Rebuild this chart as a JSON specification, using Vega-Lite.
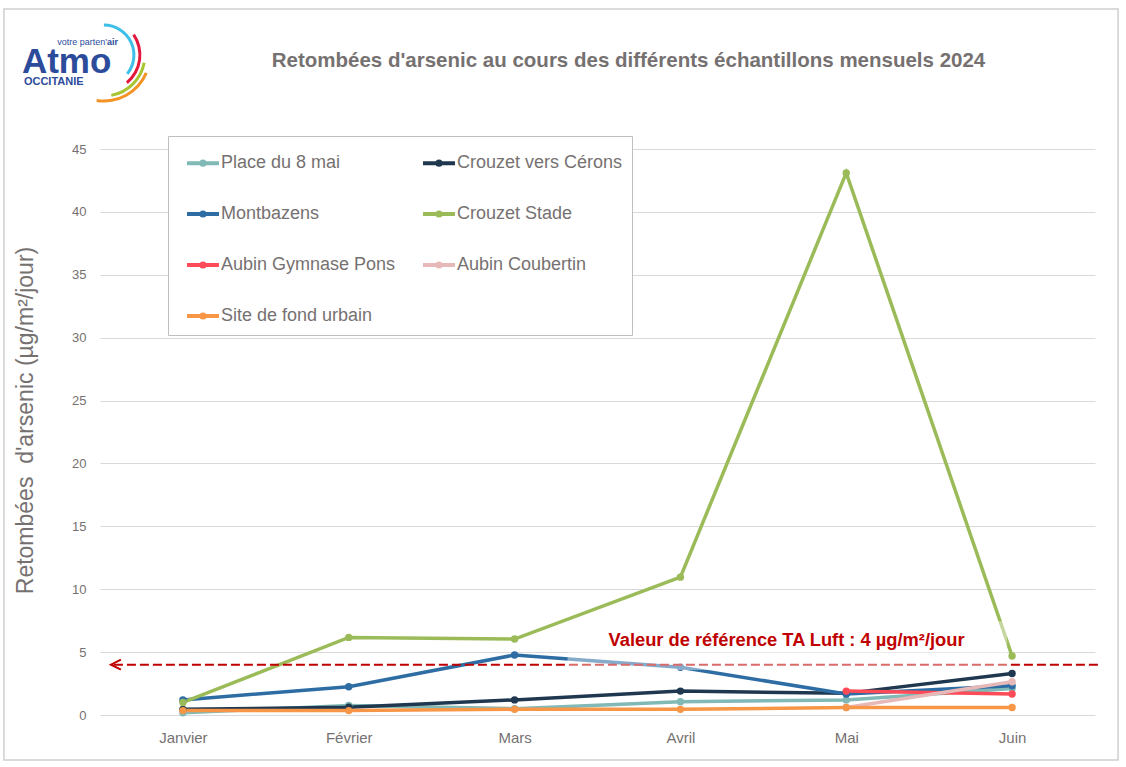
{
  "$schema": "https://vega.github.io/schema/vega-lite/v6.json",
  "autosize": {"type": "none"},
  "width": 995,
  "height": 566,
  "padding": {"left": 100, "top": 149, "right": 31, "bottom": 52},
  "background": "white",
  "title": {
    "text": "Retombées d'arsenic au cours des différents échantillons mensuels 2024",
    "font": "Liberation Sans",
    "fontSize": 20.5,
    "fontWeight": "bold",
    "color": "#767171",
    "anchor": "middle",
    "baseline": "alphabetic",
    "dx": 31,
    "offset": -79.5
  },
  "config": {
    "view": {"stroke": null},
    "font": "Liberation Sans"
  },
  "datasets": {
    "mesures": [
      {"mois": "Janvier", "site": "Place du 8 mai", "v": 0.18},
      {"mois": "Février", "site": "Place du 8 mai", "v": 0.75},
      {"mois": "Mars", "site": "Place du 8 mai", "v": 0.5},
      {"mois": "Avril", "site": "Place du 8 mai", "v": 1.05},
      {"mois": "Mai", "site": "Place du 8 mai", "v": 1.2},
      {"mois": "Juin", "site": "Place du 8 mai", "v": 2.1},
      {"mois": "Janvier", "site": "Crouzet vers Cérons", "v": 0.45},
      {"mois": "Février", "site": "Crouzet vers Cérons", "v": 0.62},
      {"mois": "Mars", "site": "Crouzet vers Cérons", "v": 1.2},
      {"mois": "Avril", "site": "Crouzet vers Cérons", "v": 1.9},
      {"mois": "Mai", "site": "Crouzet vers Cérons", "v": 1.72},
      {"mois": "Juin", "site": "Crouzet vers Cérons", "v": 3.3},
      {"mois": "Janvier", "site": "Montbazens", "v": 1.2},
      {"mois": "Février", "site": "Montbazens", "v": 2.25},
      {"mois": "Mars", "site": "Montbazens", "v": 4.77},
      {"mois": "Avril", "site": "Montbazens", "v": 3.8},
      {"mois": "Mai", "site": "Montbazens", "v": 1.67},
      {"mois": "Juin", "site": "Montbazens", "v": 2.33},
      {"mois": "Janvier", "site": "Crouzet Stade", "v": 1.0},
      {"mois": "Février", "site": "Crouzet Stade", "v": 6.17},
      {"mois": "Mars", "site": "Crouzet Stade", "v": 6.04},
      {"mois": "Avril", "site": "Crouzet Stade", "v": 10.96},
      {"mois": "Mai", "site": "Crouzet Stade", "v": 43.1},
      {"mois": "Juin", "site": "Crouzet Stade", "v": 4.69},
      {"mois": "Mai", "site": "Aubin Gymnase Pons", "v": 1.9},
      {"mois": "Juin", "site": "Aubin Gymnase Pons", "v": 1.67},
      {"mois": "Mai", "site": "Aubin Coubertin", "v": 0.6},
      {"mois": "Juin", "site": "Aubin Coubertin", "v": 2.65},
      {"mois": "Janvier", "site": "Site de fond urbain", "v": 0.35},
      {"mois": "Février", "site": "Site de fond urbain", "v": 0.35},
      {"mois": "Mars", "site": "Site de fond urbain", "v": 0.45},
      {"mois": "Avril", "site": "Site de fond urbain", "v": 0.45},
      {"mois": "Mai", "site": "Site de fond urbain", "v": 0.6},
      {"mois": "Juin", "site": "Site de fond urbain", "v": 0.6}
    ],
    "annotation": [{"label": "Valeur de référence TA Luft : 4 µg/m²/jour"}],
    "logo": [{"atmo": "Atmo", "occ": "OCCITANIE", "votre": "votre parten'", "air": "air"}]
  },
  "layer": [
    {
      "data": {"name": "mesures"},
      "mark": {"type": "line", "strokeWidth": 3.5, "point": {"filled": true, "size": 55, "opacity": 1}},
      "encoding": {
        "x": {
          "field": "mois",
          "type": "nominal",
          "scale": {"type": "point", "padding": 0.5, "domain": ["Janvier", "Février", "Mars", "Avril", "Mai", "Juin"]},
          "axis": {
            "title": null,
            "grid": false,
            "domain": false,
            "ticks": false,
            "tickSize": 0,
            "labelAngle": 0,
            "labelPadding": 15,
            "labelFont": "Liberation Sans",
            "labelFontSize": 15,
            "labelColor": "#767171"
          }
        },
        "y": {
          "field": "v",
          "type": "quantitative",
          "scale": {"domain": [0, 45], "nice": false, "zero": true},
          "axis": {
            "title": "Retombées\u00a0 d'arsenic (µg/m²/jour)",
            "titleFont": "Liberation Sans",
            "titleFontSize": 23,
            "titleFontWeight": "normal",
            "titleColor": "#767171",
            "titleAngle": -90,
            "titleAlign": "center",
            "titleBaseline": "alphabetic",
            "titleX": -68,
            "titleY": 271,
            "values": [0, 5, 10, 15, 20, 25, 30, 35, 40, 45],
            "grid": true,
            "gridColor": "#d9d9d9",
            "gridWidth": 1,
            "domain": false,
            "ticks": false,
            "tickSize": 0,
            "labelPadding": 14,
            "labelFont": "Liberation Sans",
            "labelFontSize": 13,
            "labelColor": "#767171"
          }
        },
        "color": {
          "field": "site",
          "type": "nominal",
          "scale": {
            "domain": ["Place du 8 mai", "Crouzet vers Cérons", "Montbazens", "Crouzet Stade", "Aubin Gymnase Pons", "Aubin Coubertin", "Site de fond urbain"],
            "range": ["#80b9b6", "#1f3850", "#2e6da4", "#9bbb59", "#ff4b57", "#e6b9b8", "#f79646"]
          },
          "legend": {
            "title": null,
            "orient": "none",
            "legendX": 68,
            "legendY": -13,
            "columns": 2,
            "direction": "horizontal",
            "padding": 9,
            "strokeColor": "#bfbfbf",
            "fillColor": "white",
            "labelFont": "Liberation Sans",
            "labelFontSize": 18,
            "labelColor": "#767171",
            "labelLimit": 300,
            "labelOffset": 8,
            "symbolType": "M-0.5,0L1.5,0M0.6,0A0.1,0.1,0,1,1,0.4,0A0.1,0.1,0,1,1,0.6,0",
            "symbolSize": 1024,
            "symbolStrokeWidth": 4,
            "symbolOpacity": 1,
            "rowPadding": 23,
            "columnPadding": 17
          }
        }
      }
    },
    {
      "data": {"name": "annotation"},
      "mark": {"type": "rect", "fill": null, "filled": false, "stroke": "#d0d0d0", "strokeWidth": 1.5, "xOffset": -179, "x2Offset": 106, "clip": false},
      "encoding": {
        "x": {"datum": "Janvier"},
        "x2": {"datum": "Juin"},
        "y": {"datum": 56.13},
        "y2": {"datum": -3.58}
      }
    },
    {
      "data": {"name": "annotation"},
      "mark": {"type": "rule", "color": "#c00000", "strokeWidth": 2, "strokeDash": [9, 4], "xOffset": -69, "x2Offset": 89},
      "encoding": {
        "x": {"datum": "Janvier"},
        "x2": {"datum": "Juin"},
        "y": {"datum": 4}
      }
    },
    {
      "data": {"name": "annotation"},
      "mark": {"type": "point", "shape": "M1,-1L-1,0L1,1", "filled": false, "stroke": "#c00000", "strokeWidth": 2, "size": 100, "xOffset": -67, "opacity": 1},
      "encoding": {
        "x": {"datum": "Janvier"},
        "y": {"datum": 4}
      }
    },
    {
      "data": {"name": "annotation"},
      "mark": {"type": "rect", "fill": "white", "fillOpacity": 0.42, "xOffset": 53, "x2Offset": -5},
      "encoding": {
        "x": {"datum": "Mars"},
        "x2": {"datum": "Juin"},
        "y": {"datum": 3.58},
        "y2": {"datum": 7.45}
      }
    },
    {
      "data": {"name": "annotation"},
      "mark": {"type": "text", "align": "left", "baseline": "alphabetic", "dx": 94, "dy": -19, "font": "Liberation Sans", "fontSize": 18.3, "fontWeight": "bold", "color": "#c00000"},
      "encoding": {
        "x": {"datum": "Mars"},
        "y": {"datum": 4},
        "text": {"field": "label"}
      }
    },
    {
      "data": {"name": "logo"},
      "mark": {"type": "arc", "innerRadius": 28.5, "outerRadius": 31.5, "theta": 0.0, "theta2": 2.25, "color": "#3dbfe8", "xOffset": -79, "clip": false},
      "encoding": {"x": {"datum": "Janvier"}, "y": {"datum": 52.47}}
    },
    {
      "data": {"name": "logo"},
      "mark": {"type": "arc", "innerRadius": 34.5, "outerRadius": 37.5, "theta": 0.97, "theta2": 2.45, "color": "#e2183d", "xOffset": -79, "clip": false},
      "encoding": {"x": {"datum": "Janvier"}, "y": {"datum": 52.47}}
    },
    {
      "data": {"name": "logo"},
      "mark": {"type": "arc", "innerRadius": 39.5, "outerRadius": 42.5, "theta": 1.76, "theta2": 2.96, "color": "#a6c530", "xOffset": -79, "clip": false},
      "encoding": {"x": {"datum": "Janvier"}, "y": {"datum": 52.47}}
    },
    {
      "data": {"name": "logo"},
      "mark": {"type": "arc", "innerRadius": 44.5, "outerRadius": 47.5, "theta": 1.97, "theta2": 3.3, "color": "#f39325", "xOffset": -79, "clip": false},
      "encoding": {"x": {"datum": "Janvier"}, "y": {"datum": 52.47}}
    },
    {
      "data": {"name": "logo"},
      "mark": {"type": "text", "align": "left", "baseline": "alphabetic", "dx": -161, "font": "Liberation Sans", "fontSize": 35, "fontWeight": "bold", "color": "#2c4b9b"},
      "encoding": {"x": {"datum": "Janvier"}, "y": {"datum": 51.04}, "text": {"field": "atmo"}}
    },
    {
      "data": {"name": "logo"},
      "mark": {"type": "text", "align": "left", "baseline": "alphabetic", "dx": -159, "font": "Liberation Sans", "fontSize": 11, "fontWeight": "bold", "color": "#2c4b9b"},
      "encoding": {"x": {"datum": "Janvier"}, "y": {"datum": 50.1}, "text": {"field": "occ"}}
    },
    {
      "data": {"name": "logo"},
      "mark": {"type": "text", "align": "right", "baseline": "alphabetic", "dx": -76, "font": "Liberation Sans", "fontSize": 9, "fontWeight": "normal", "color": "#2c4b9b"},
      "encoding": {"x": {"datum": "Janvier"}, "y": {"datum": 53.25}, "text": {"field": "votre"}}
    },
    {
      "data": {"name": "logo"},
      "mark": {"type": "text", "align": "left", "baseline": "alphabetic", "dx": -76, "font": "Liberation Sans", "fontSize": 9, "fontWeight": "bold", "color": "#2c4b9b"},
      "encoding": {"x": {"datum": "Janvier"}, "y": {"datum": 53.25}, "text": {"field": "air"}}
    }
  ]
}
